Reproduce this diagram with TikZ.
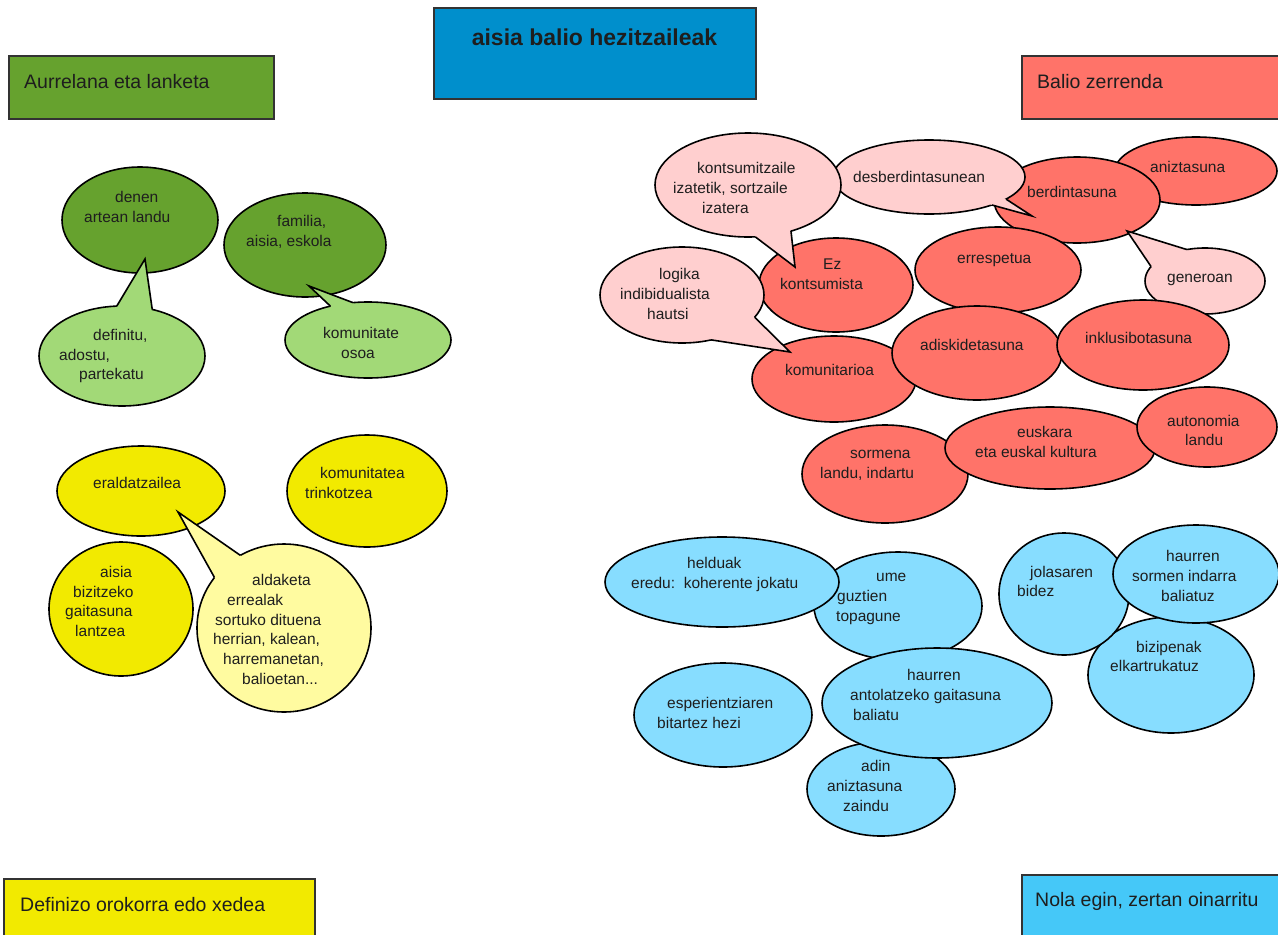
\documentclass[tikz,border=0pt]{standalone}
\usepackage{fontspec}
\setmainfont{Liberation Sans}
\usetikzlibrary{shapes.geometric}
\definecolor{dgreen}{HTML}{66A22E}
\definecolor{lgreen}{HTML}{A2D977}
\definecolor{yel}{HTML}{F2EA00}
\definecolor{lyel}{HTML}{FFFBA0}
\definecolor{redA}{HTML}{FF7369}
\definecolor{pinkA}{HTML}{FFCFCF}
\definecolor{blueA}{HTML}{87DDFF}
\definecolor{tblue}{HTML}{008FCC}
\definecolor{nblue}{HTML}{45C8F8}
\definecolor{txtc}{HTML}{1E1E1E}
\newcommand{\myind}[1]{\hspace*{#1pt}}
\begin{document}
\begin{tikzpicture}[x=1pt,y=-1pt,
  ell/.style={ellipse, draw=black, line width=1.6pt, inner sep=0pt, outer sep=0pt},
  catbox/.style={rectangle, draw=black!80, line width=1.3pt, inner sep=0pt, outer sep=0pt, anchor=north west},
  bt/.style={font=\fontsize{15.5}{19.8}\selectfont, text=txtc, inner sep=0pt, align=left, anchor=west},
  lab/.style={font=\fontsize{19.5}{23}\selectfont, text=txtc, inner sep=0pt},
  tailline/.style={line width=1.6pt, line join=miter}
]
\useasboundingbox (0,0) rectangle (1278,935);

% category boxes
\node[catbox, fill=dgreen, minimum width=265pt, minimum height=63pt] (aurre) at (9,56) {};
\node[catbox, fill=tblue, minimum width=322pt, minimum height=91pt] (title) at (434,8) {};
\node[catbox, fill=redA, minimum width=270pt, minimum height=63pt] (balio) at (1022,56) {};
\node[catbox, fill=yel, minimum width=311pt, minimum height=70pt] (defin) at (4,879) {};
\node[catbox, fill=nblue, minimum width=270pt, minimum height=70pt] (nola) at (1022,875) {};

% green
\node[ell, fill=dgreen, minimum width=156pt, minimum height=106pt] (denen) at (140,220) {};
\node[ell, fill=dgreen, minimum width=162pt, minimum height=104pt] (familia) at (305,245) {};
\node[ell, fill=lgreen, minimum width=166pt, minimum height=100pt] (defi) at (122,356) {};
\coordinate (defiTip) at (145,259);
\fill[lgreen] (defi.96) -- (defiTip) -- (defi.57) -- (defi.center) -- cycle;
\draw[tailline] (defi.96) -- (defiTip) -- (defi.57);
\node[ell, fill=lgreen, minimum width=166pt, minimum height=76pt] (komos) at (368,340) {};
\coordinate (komosTip) at (309,286);
\fill[lgreen] (komos.138) -- (komosTip) -- (komos.112) -- (komos.center) -- cycle;
\draw[tailline] (komos.138) -- (komosTip) -- (komos.112);

% yellow
\node[ell, fill=yel, minimum width=168pt, minimum height=90pt] (erald) at (141,491) {};
\node[ell, fill=yel, minimum width=160pt, minimum height=112pt] (komtr) at (367,491) {};
\node[ell, fill=yel, minimum width=144pt, minimum height=134pt] (aisia) at (121,609) {};
\node[ell, fill=lyel, minimum width=174pt, minimum height=168pt] (aldak) at (284,628) {};
\coordinate (aldakTip) at (178,512);
\fill[lyel] (aldak.144) -- (aldakTip) -- (aldak.121) -- (aldak.center) -- cycle;
\draw[tailline] (aldak.144) -- (aldakTip) -- (aldak.121);

% red
\node[ell, fill=redA, minimum width=162pt, minimum height=68pt] (aniz) at (1196,171) {};
\node[ell, fill=redA, minimum width=166pt, minimum height=86pt] (berd) at (1077,200) {};
\node[ell, fill=redA, minimum width=166pt, minimum height=86pt] (erresp) at (998,270) {};
\node[ell, fill=redA, minimum width=154pt, minimum height=94pt] (ezk) at (836,285) {};
\node[ell, fill=redA, minimum width=164pt, minimum height=86pt] (komun) at (834,379) {};
\node[ell, fill=redA, minimum width=170pt, minimum height=94pt] (adisk) at (977,353) {};
\node[ell, fill=pinkA, minimum width=120pt, minimum height=66pt] (gener) at (1205,281) {};
\coordinate (generTip) at (1127,231);
\fill[pinkA] (gener.165) -- (generTip) -- (gener.120) -- (gener.center) -- cycle;
\draw[tailline] (gener.165) -- (generTip) -- (gener.120);
\node[ell, fill=redA, minimum width=172pt, minimum height=90pt] (inkl) at (1143,345) {};
\node[ell, fill=redA, minimum width=166pt, minimum height=98pt] (sorm) at (885,474) {};
\node[ell, fill=redA, minimum width=210pt, minimum height=82pt] (eusk) at (1050,448) {};
\node[ell, fill=redA, minimum width=140pt, minimum height=80pt] (auton) at (1207,427) {};
\node[ell, fill=pinkA, minimum width=192pt, minimum height=74pt] (desb) at (929,177) {};
\coordinate (desbTip) at (1032,216);
\fill[pinkA] (desb.-16) -- (desbTip) -- (desb.-24) -- (desb.center) -- cycle;
\draw[tailline] (desb.-16) -- (desbTip) -- (desb.-24);
\node[ell, fill=pinkA, minimum width=186pt, minimum height=104pt] (kons) at (748,185) {};
\coordinate (konsTip) at (795,267);
\fill[pinkA] (kons.-82) -- (konsTip) -- (kons.-47) -- (kons.center) -- cycle;
\draw[tailline] (kons.-82) -- (konsTip) -- (kons.-47);
\node[ell, fill=pinkA, minimum width=164pt, minimum height=96pt] (logi) at (682,295) {};
\coordinate (logiTip) at (790,352);
\fill[pinkA] (logi.-17) -- (logiTip) -- (logi.-57) -- (logi.center) -- cycle;
\draw[tailline] (logi.-17) -- (logiTip) -- (logi.-57);

% blue
\node[ell, fill=blueA, minimum width=168pt, minimum height=108pt] (ume) at (898,606) {};
\node[ell, fill=blueA, minimum width=234pt, minimum height=90pt] (held) at (722,582) {};
\node[ell, fill=blueA, minimum width=178pt, minimum height=104pt] (esper) at (723,715) {};
\node[ell, fill=blueA, minimum width=148pt, minimum height=94pt] (adin) at (881,789) {};
\node[ell, fill=blueA, minimum width=230pt, minimum height=110pt] (hant) at (937,703) {};
\node[ell, fill=blueA, minimum width=166pt, minimum height=116pt] (bizip) at (1171,675) {};
\node[ell, fill=blueA, minimum width=130pt, minimum height=122pt] (jolas) at (1064,594) {};
\node[ell, fill=blueA, minimum width=166pt, minimum height=98pt] (hsorm) at (1196,574) {};

% labels
\node[lab, anchor=west] (taurre) at (24,81.7) {Aurrelana eta lanketa};
\node[lab, anchor=base, font=\bfseries\fontsize{23}{27}\selectfont] (ttitle) at (594.5,45) {aisia balio hezitzaileak};
\node[lab, anchor=base west] (tbalio) at (1037,88) {Balio zerrenda};
\node[lab, anchor=base west] (tdefin) at (20,911) {Definizo orokorra edo xedea};
\node[lab, anchor=base west] (tnola) at (1035,906) {Nola egin, zertan oinarritu};

% bubble texts
\node[bt] (tdenen) at (84,207) {\myind{31}denen\\artean landu};
\node[bt] (tfam) at (246,232) {\myind{31}familia,\\aisia, eskola};
\node[bt] (tdefi) at (59,356) {\myind{34}definitu,\\adostu,\\\myind{20}partekatu};
\node[bt] (tkomos) at (323,343) {komunitate\\\myind{18}osoa};
\node[bt] (terald) at (93,483) {eraldatzailea};
\node[bt] (tkomtr) at (305,483) {\myind{15}komunitatea\\trinkotzea};
\node[bt] (taisia) at (65,601.5) {\myind{35}aisia\\\myind{8}bizitzeko\\gaitasuna\\\myind{10}lantzea};
\node[bt] (taldak) at (213,629.5) {\myind{39}aldaketa\\\myind{14}errealak\\\myind{2}sortuko dituena\\herrian, kalean,\\\myind{10}harremanetan,\\\myind{29}balioetan...};

\node[bt] (tkons) at (673,188) {\myind{24}kontsumitzaile\\izatetik, sortzaile\\\myind{29}izatera};
\node[bt] (tdesb) at (853,177) {desberdintasunean};
\node[bt] (tberd) at (1027,192) {berdintasuna};
\node[bt] (taniz) at (1150,167) {aniztasuna};
\node[bt] (tgener) at (1167,280) {generoan};
\node[bt] (terresp) at (957,260) {errespetua};
\node[bt] (tezk) at (780,274) {\myind{43}Ez\\kontsumista};
\node[bt] (tlogi) at (620,294) {\myind{39}logika\\indibidualista\\\myind{27}hautsi};
\node[bt] (tkomun) at (785,370) {komunitarioa};
\node[bt] (tadisk) at (920,345) {adiskidetasuna};
\node[bt] (tinkl) at (1085,338) {inklusibotasuna};
\node[bt] (tauton) at (1167,430.5) {autonomia\\\myind{18}landu};
\node[bt] (teusk) at (975,442) {\myind{42}euskara\\eta euskal kultura};
\node[bt] (tsorm) at (820,465.5) {\myind{30}sormena\\landu, indartu};

\node[bt] (theld) at (631,574.5) {\myind{56}helduak\\eredu:\ \ koherente jokatu};
\node[bt] (tume) at (836,599) {\myind{40}ume\\\myind{1}guztien\\topagune};
\node[bt] (tesper) at (657,713) {\myind{10}esperientziaren\\bitartez hezi};
\node[bt] (thant) at (850,695) {\myind{57}haurren\\antolatzeko gaitasuna\\\myind{3}baliatu};
\node[bt] (tadin) at (827,786) {\myind{34}adin\\aniztasuna\\\myind{16}zaindu};
\node[bt] (tjolas) at (1017,581.5) {\myind{13}jolasaren\\bidez};
\node[bt] (thsorm) at (1132,576) {\myind{34}haurren\\sormen indarra\\\myind{29}baliatuz};
\node[bt] (tbizip) at (1110,656.5) {\myind{26}bizipenak\\elkartrukatuz};
\end{tikzpicture}
\end{document}
